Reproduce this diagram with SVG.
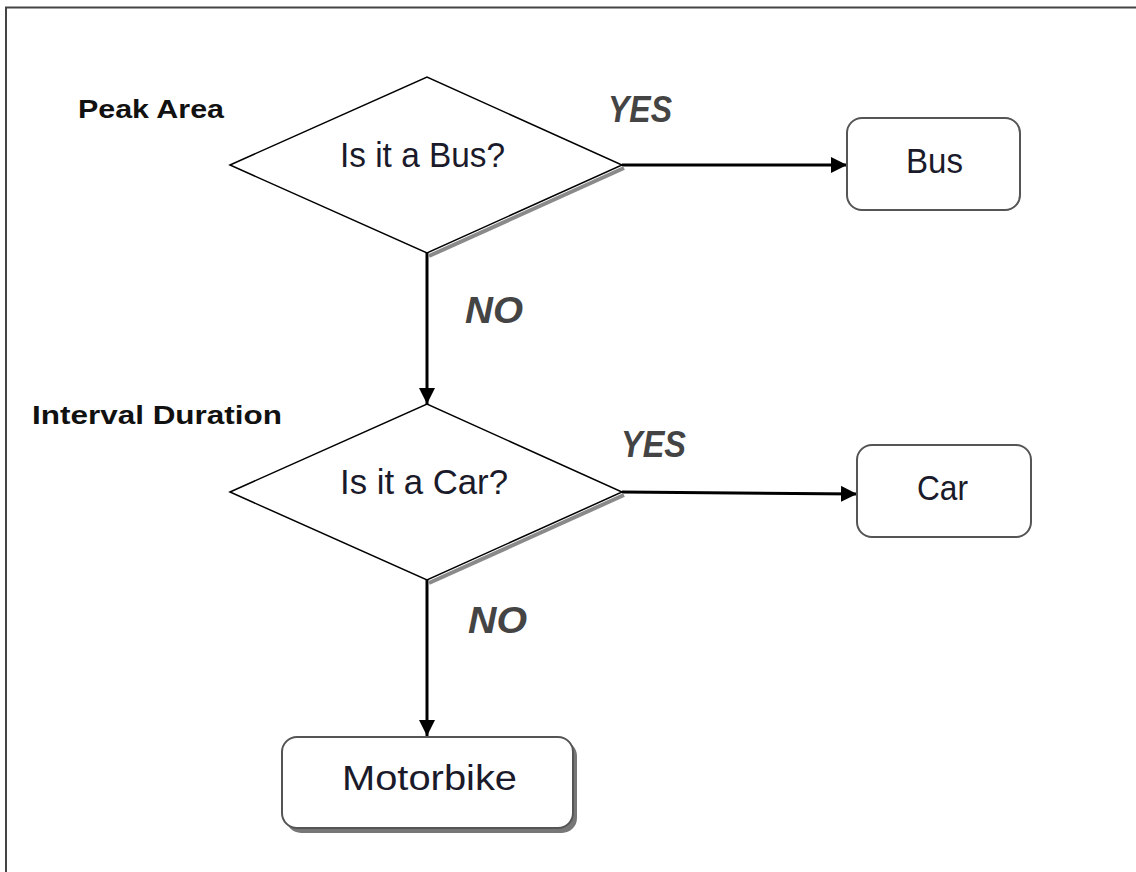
<svg xmlns="http://www.w3.org/2000/svg" width="1136" height="872" viewBox="0 0 1136 872">
<defs>
<style>
.dia{fill:#fff;stroke:#000;stroke-width:1.5}
.shd{fill:none;stroke:#8a8a8a;stroke-width:4}
.box{fill:#fff;stroke:#555;stroke-width:2}
.nt{font-family:"Liberation Sans",Arial,sans-serif;font-size:35px;fill:#1a1a2a;text-anchor:start}
.lb{font-family:"Liberation Sans",Arial,sans-serif;font-size:25px;font-weight:bold;fill:#111}
.yn{font-family:"Liberation Sans",Arial,sans-serif;font-size:36px;font-weight:bold;font-style:italic;fill:#444}
.ln{stroke:#000;stroke-width:3;fill:none}
</style>
<marker id="ahb" markerWidth="16" markerHeight="16" refX="16" refY="8" orient="auto" markerUnits="userSpaceOnUse" viewBox="0 0 16 16">
<path d="M0,0 L16,8 L0,16 z" fill="#000"/>
</marker>
</defs>
<rect width="1136" height="872" fill="#fff"/>
<g id="frame">
<line x1="5" y1="7.5" x2="1136" y2="7.5" stroke="#444" stroke-width="2"/>
<line x1="6" y1="7" x2="6" y2="872" stroke="#444" stroke-width="2"/>
</g>
<g id="connectors">
<line class="ln" x1="622" y1="165" x2="847" y2="165" marker-end="url(#ahb)"/>
<line class="ln" x1="427" y1="253" x2="427" y2="404" marker-end="url(#ahb)"/>
<line class="ln" x1="622" y1="492" x2="857" y2="494" marker-end="url(#ahb)"/>
<line class="ln" x1="427" y1="580" x2="427" y2="736" marker-end="url(#ahb)"/>
</g>
<g id="peak-area"><text class="lb" x="78" y="118" textLength="146" lengthAdjust="spacingAndGlyphs">Peak Area</text></g>
<g id="interval-duration"><text class="lb" x="32" y="424" textLength="250" lengthAdjust="spacingAndGlyphs">Interval Duration</text></g>
<g id="q-bus">
<polyline class="shd" points="624,168 429,256"/>
<polygon class="dia" points="230,165 427,77 622,165 427,253"/>
<text class="nt" x="340" y="167" textLength="165" lengthAdjust="spacingAndGlyphs">Is it a Bus?</text>
</g>
<g id="yes1"><text class="yn" x="608" y="122" textLength="64" lengthAdjust="spacingAndGlyphs">YES</text></g>
<g id="no1"><text class="yn" x="465" y="323" textLength="58" lengthAdjust="spacingAndGlyphs">NO</text></g>
<g id="bus">
<rect class="box" x="847" y="118" width="173" height="92" rx="15"/>
<text class="nt" x="906" y="173" textLength="57" lengthAdjust="spacingAndGlyphs">Bus</text>
</g>
<g id="q-car">
<polyline class="shd" points="624,495 429,583"/>
<polygon class="dia" points="230,492 427,404 622,492 427,580"/>
<text class="nt" x="340" y="494" textLength="168" lengthAdjust="spacingAndGlyphs">Is it a Car?</text>
</g>
<g id="yes2"><text class="yn" x="621" y="457" textLength="65" lengthAdjust="spacingAndGlyphs">YES</text></g>
<g id="no2"><text class="yn" x="468" y="633" textLength="59" lengthAdjust="spacingAndGlyphs">NO</text></g>
<g id="car">
<rect class="box" x="857" y="445" width="174" height="92" rx="15"/>
<text class="nt" x="917" y="500" textLength="51" lengthAdjust="spacingAndGlyphs">Car</text>
</g>
<g id="motorbike">
<rect x="286" y="741" width="291" height="92" rx="15" fill="#777"/>
<rect class="box" x="282" y="737" width="291" height="91" rx="15"/>
<text class="nt" x="342" y="790" textLength="175" lengthAdjust="spacingAndGlyphs">Motorbike</text>
</g>
</svg>
